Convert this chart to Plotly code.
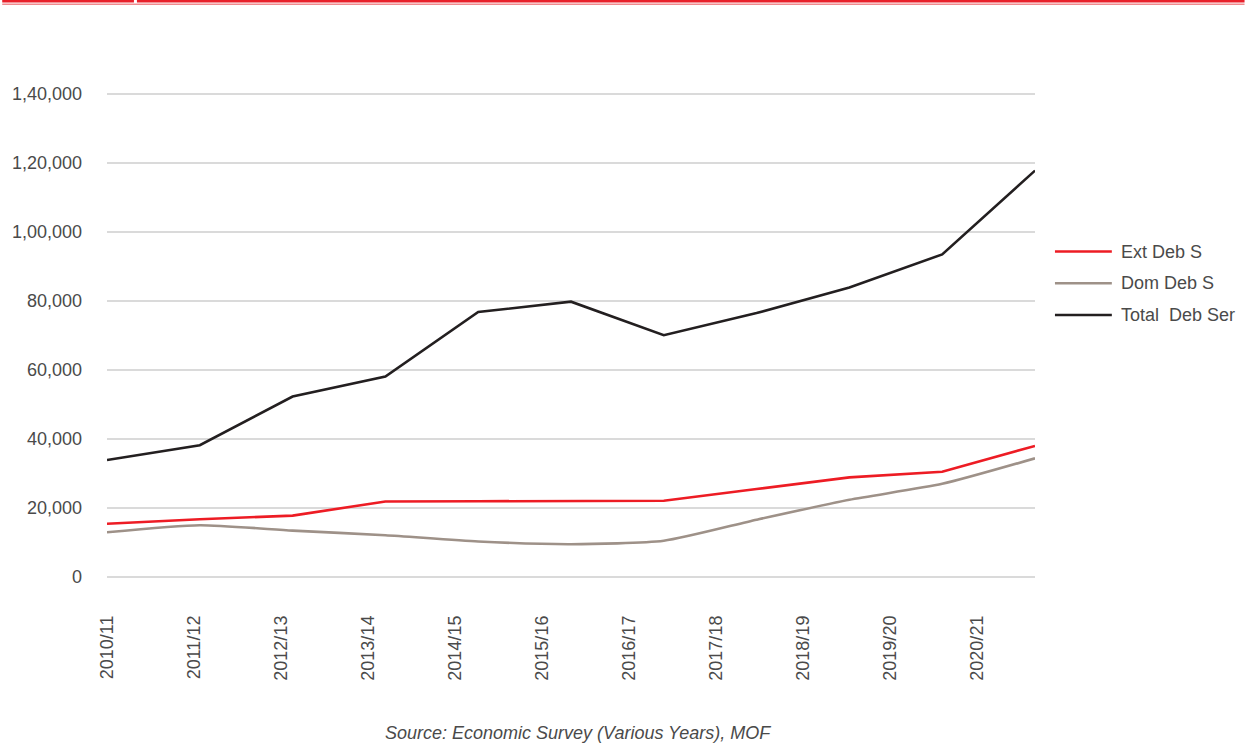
import plotly.graph_objects as go

# ---------------- data ----------------
years = ["2010/11", "2011/12", "2012/13", "2013/14", "2014/15", "2015/16",
         "2016/17", "2017/18", "2018/19", "2019/20", "2020/21"]
ext_deb_s = [15450, 16750, 17800, 21900, 21950, 22030, 22120, 25500, 28870, 30500, 38000]
dom_deb_s = [12950, 14990, 13450, 12100, 10300, 9500, 10500, 16600, 22400, 27000, 34400]
total_deb_ser = [33900, 38200, 52300, 58100, 76800, 79800, 70100, 76500, 83900, 93500, 117800]
y_ticks = [0, 20000, 40000, 60000, 80000, 100000, 120000, 140000]
y_tick_text = ["0", "20,000", "40,000", "60,000", "80,000", "1,00,000", "1,20,000", "1,40,000"]
series_names = ["Ext Deb S", "Dom Deb S", "Total  Deb Ser"]

# ---------------- style / layout ----------------
W, H = 1245, 747
L, R, T, B = 105, 1035, 94, 577
FONT = "Liberation Sans"
TXT = "#4a4a4a"
GRID = "#DADADA"
COLORS = ["#ED1C24", "#9E9188", "#231F20"]
LABEL_STEP = 87.2 / 93.0  # category labels are spaced tighter than the points
Y_MIN, Y_MAX = y_ticks[0], y_ticks[-1]


def px_x(p):
    return (p - L) / (R - L)


def px_y(p):
    return (B - p) / (B - T)


xs = list(range(len(years)))

fig = go.Figure()
for name, vals, col in zip(series_names, [ext_deb_s, dom_deb_s, total_deb_ser], COLORS):
    fig.add_trace(go.Scatter(
        x=xs, y=vals, name=name, mode="lines",
        line=dict(color=col, width=2.6, shape="spline" if name == "Dom Deb S" else "linear",
                  smoothing=0.6),
        showlegend=False,
    ))

shapes = []
annotations = []

# gridlines at the range edges (plotly drops those); paper refs so they are not clipped
for frac in (0.0, 1.0):
    shapes.append(dict(type="line", xref="paper", yref="paper", x0=0, x1=1, y0=frac, y1=frac,
                       layer="below", line=dict(color=GRID, width=2)))

# custom legend
legend_rows = [251.5, 283.3, 315.0]
for name, col, yy in zip(series_names, COLORS, legend_rows):
    shapes.append(dict(type="line", xref="paper", yref="paper",
                       x0=px_x(1055), x1=px_x(1112), y0=px_y(yy), y1=px_y(yy),
                       line=dict(color=col, width=2.6)))
    annotations.append(dict(text=name, xref="paper", yref="paper",
                            x=px_x(1119), y=px_y(yy), xanchor="left", yanchor="middle",
                            showarrow=False, font=dict(family=FONT, size=18, color=TXT)))

# top decorative red rules
shapes.append(dict(type="line", xref="paper", yref="paper",
                   x0=px_x(0), x1=px_x(132), y0=px_y(1.2), y1=px_y(1.2),
                   line=dict(color="#E8202A", width=2.4)))
shapes.append(dict(type="line", xref="paper", yref="paper",
                   x0=px_x(135), x1=px_x(W), y0=px_y(1.2), y1=px_y(1.2),
                   line=dict(color="#E8202A", width=2.4)))
shapes.append(dict(type="line", xref="paper", yref="paper",
                   x0=px_x(0), x1=px_x(W), y0=px_y(4.2), y1=px_y(4.2),
                   line=dict(color="#F08A8E", width=1.6)))

# source note
annotations.append(dict(text="Source: Economic Survey (Various Years), MOF",
                        xref="paper", yref="paper", x=px_x(577), y=px_y(733),
                        xanchor="center", yanchor="middle", showarrow=False,
                        font=dict(family=FONT, size=18, color=TXT, style="italic")))

fig.update_layout(
    width=W, height=H,
    margin=dict(l=L, r=W - R, t=T, b=H - B, pad=0),
    paper_bgcolor="white", plot_bgcolor="white",
    font=dict(family=FONT, size=18, color=TXT),
    shapes=shapes, annotations=annotations,
    showlegend=False,
    xaxis=dict(
        range=[0, len(years) - 1],
        tickmode="array",
        tickvals=[i * LABEL_STEP for i in xs],
        ticktext=years,
        tickangle=-90,
        showgrid=False, zeroline=False, showline=False,
        ticks="", ticklabelstandoff=34,
        tickfont=dict(family=FONT, size=18, color=TXT),
    ),
    yaxis=dict(
        range=[Y_MIN, Y_MAX],
        tickmode="array",
        tickvals=y_ticks,
        ticktext=y_tick_text,
        showgrid=True, gridcolor=GRID, gridwidth=2,
        zeroline=False, showline=False,
        ticks="", ticklabelstandoff=24,
        tickfont=dict(family=FONT, size=18, color=TXT),
    ),
)

fig.write_html(
    "out.html",
    config={"displayModeBar": False},
    post_script="document.body.style.margin='0';document.body.style.overflow='hidden';",
)
